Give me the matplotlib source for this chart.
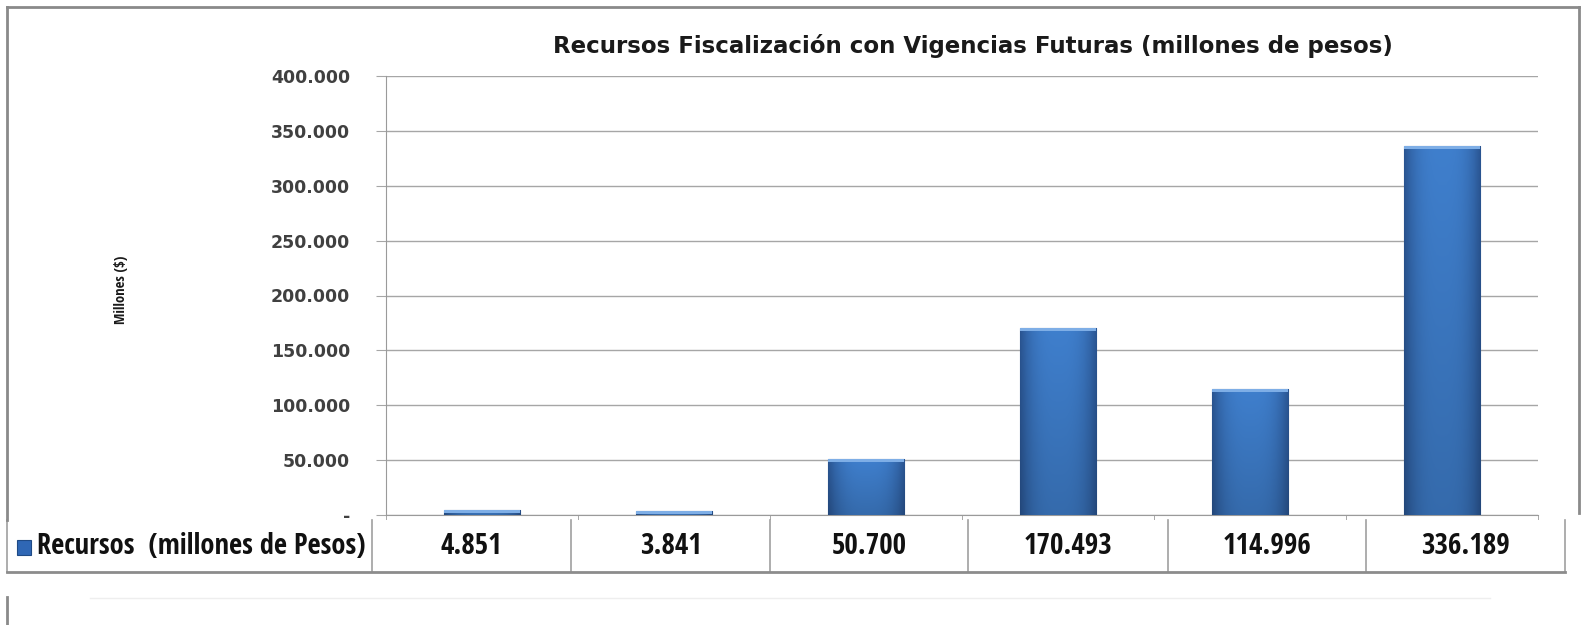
import numpy as np
import matplotlib
matplotlib.use("Agg")
import matplotlib.pyplot as plt
from matplotlib.colors import to_rgb
from matplotlib.lines import Line2D
from matplotlib.patches import Rectangle

# Data
categorias = ["2011", "2012", "2013", "2014", "2015", "2016"]
recursos = [4851, 3841, 50700, 170493, 114996, 336189]
serie = "Recursos  (millones de Pesos)"
titulo = "Recursos Fiscalización con Vigencias Futuras (millones de pesos)"
eje_y = "Millones ($)"
y_ticks = [0, 50000, 100000, 150000, 200000, 250000, 300000, 350000, 400000]

W, H = 1585, 625
NARROW = ["Open Sans Condensed", "Carlito", "DejaVu Sans"]


def fx(px):
    return px / W


def fy(py):
    return 1 - py / H


def fmt_miles(v):
    # Excel style: dot as thousands separator, dash for zero
    if v == 0:
        return "-"
    return f"{v:,.0f}".replace(",", ".")


def bar_gradient(n=64):
    # darker at the sides, a bit darker towards the bottom
    side = np.array(to_rgb("#2A5592"))
    mid = np.array(to_rgb("#3F7FCD"))
    t = np.linspace(-1, 1, n)
    prof = 1 - np.abs(t) ** 3
    row = side + (mid - side) * prof[:, None]
    vert = np.linspace(0.84, 1.0, n)[:, None, None]
    return np.clip(row[None, :, :] * vert, 0, 1)


fig = plt.figure(figsize=(W / 100, H / 100), dpi=100)
fig.patch.set_facecolor("white")

ax = fig.add_axes([fx(386), fy(515), fx(1538) - fx(386), fy(76) - fy(515)])
x = np.arange(len(recursos))

bars = ax.bar(x, recursos, width=0.40, color="#3A72BD", edgecolor="#2B5791",
              linewidth=0.8, zorder=3)
img = bar_gradient()
for b in bars:
    x0, w, h = b.get_x(), b.get_width(), b.get_height()
    im = ax.imshow(img, extent=[x0, x0 + w, 0, h], aspect="auto",
                   origin="lower", zorder=4)
    im.set_clip_path(b)
    # light bevel on the top
    cap = min(h, 2600)
    ax.add_patch(Rectangle((x0, h - cap), w, cap, facecolor="#7EAEE6",
                           edgecolor="none", zorder=5))

ax.set_xlim(-0.5, len(recursos) - 0.5)
ax.set_ylim(0, 400000)
ax.set_yticks(y_ticks)
ax.set_yticklabels([fmt_miles(v) for v in y_ticks], fontsize=12.5,
                   fontweight="bold", color="#404040")
ax.set_xticks([])
ax.set_xticks(np.arange(len(recursos) + 1) - 0.5, minor=True)
ax.tick_params(axis="x", which="minor", length=6, color="#9A9A9A",
               direction="out")
ax.tick_params(axis="y", length=7, color="#A6A6A6", pad=19)
ax.yaxis.grid(True, color="#A6A6A6", linewidth=1.0, zorder=0)
ax.set_axisbelow(True)
for s in ["top", "right"]:
    ax.spines[s].set_visible(False)
ax.spines["left"].set_color("#9A9A9A")
ax.spines["bottom"].set_color("#9A9A9A")

fig.text(0.5 * (fx(546) + fx(1400)), fy(46), titulo, ha="center",
         va="center", fontsize=16.5, fontweight="bold", color="#1a1a1a")
fig.text(fx(121), fy(290), eje_y, rotation=90, ha="center", va="center",
         fontsize=10.5, fontweight="bold", family=NARROW, color="#1a1a1a")

# Data table under the chart
t_top, t_bot = 520, 572
bordes = [7, 372, 571, 770, 968, 1168, 1366, 1565]
fig.add_artist(Rectangle((fx(7), fy(t_bot)), fx(1565) - fx(7),
                         fy(t_top) - fy(t_bot), transform=fig.transFigure,
                         facecolor="white", edgecolor="none", zorder=6))
for bx in bordes:
    fig.add_artist(Line2D([fx(bx), fx(bx)], [fy(t_top), fy(t_bot)],
                          transform=fig.transFigure, color="#A0A0A0",
                          lw=1.2, zorder=7))
fig.add_artist(Line2D([fx(7), fx(1565)], [fy(t_bot), fy(t_bot)],
                      transform=fig.transFigure, color="#8C8C8C", lw=2.0,
                      zorder=7))
fig.add_artist(Rectangle((fx(17), fy(555)), fx(14), fy(540) - fy(555),
                         transform=fig.transFigure, facecolor="#2F67B5",
                         edgecolor="#1F4A85", lw=0.8, zorder=8))
fig.text(fx(37), fy(546), serie, ha="left", va="center", fontsize=20.5,
         fontweight="bold", family=NARROW, color="#111111", zorder=8)
for i, v in enumerate(recursos):
    cx = 0.5 * (bordes[i + 1] + bordes[i + 2])
    fig.text(fx(cx), fy(546), fmt_miles(v), ha="center", va="center",
             fontsize=21, fontweight="bold", family=NARROW,
             color="#111111", zorder=8)

# Outer frame of the chart area
marco = dict(transform=fig.transFigure, color="#8A8A8A", lw=2.0, zorder=9)
fig.add_artist(Line2D([fx(7), fx(1579)], [fy(7), fy(7)], **marco))
fig.add_artist(Line2D([fx(7), fx(7)], [fy(7), fy(520)], **marco))
fig.add_artist(Line2D([fx(1579), fx(1579)], [fy(7), fy(513)], **marco))
fig.add_artist(Line2D([fx(7), fx(7)], [fy(597), fy(625)], **marco))
fig.add_artist(Line2D([fx(90), fx(1490)], [fy(598), fy(598)],
                      transform=fig.transFigure, color="#EEEEEE", lw=1.0))

fig.savefig("out.png", dpi=100)
